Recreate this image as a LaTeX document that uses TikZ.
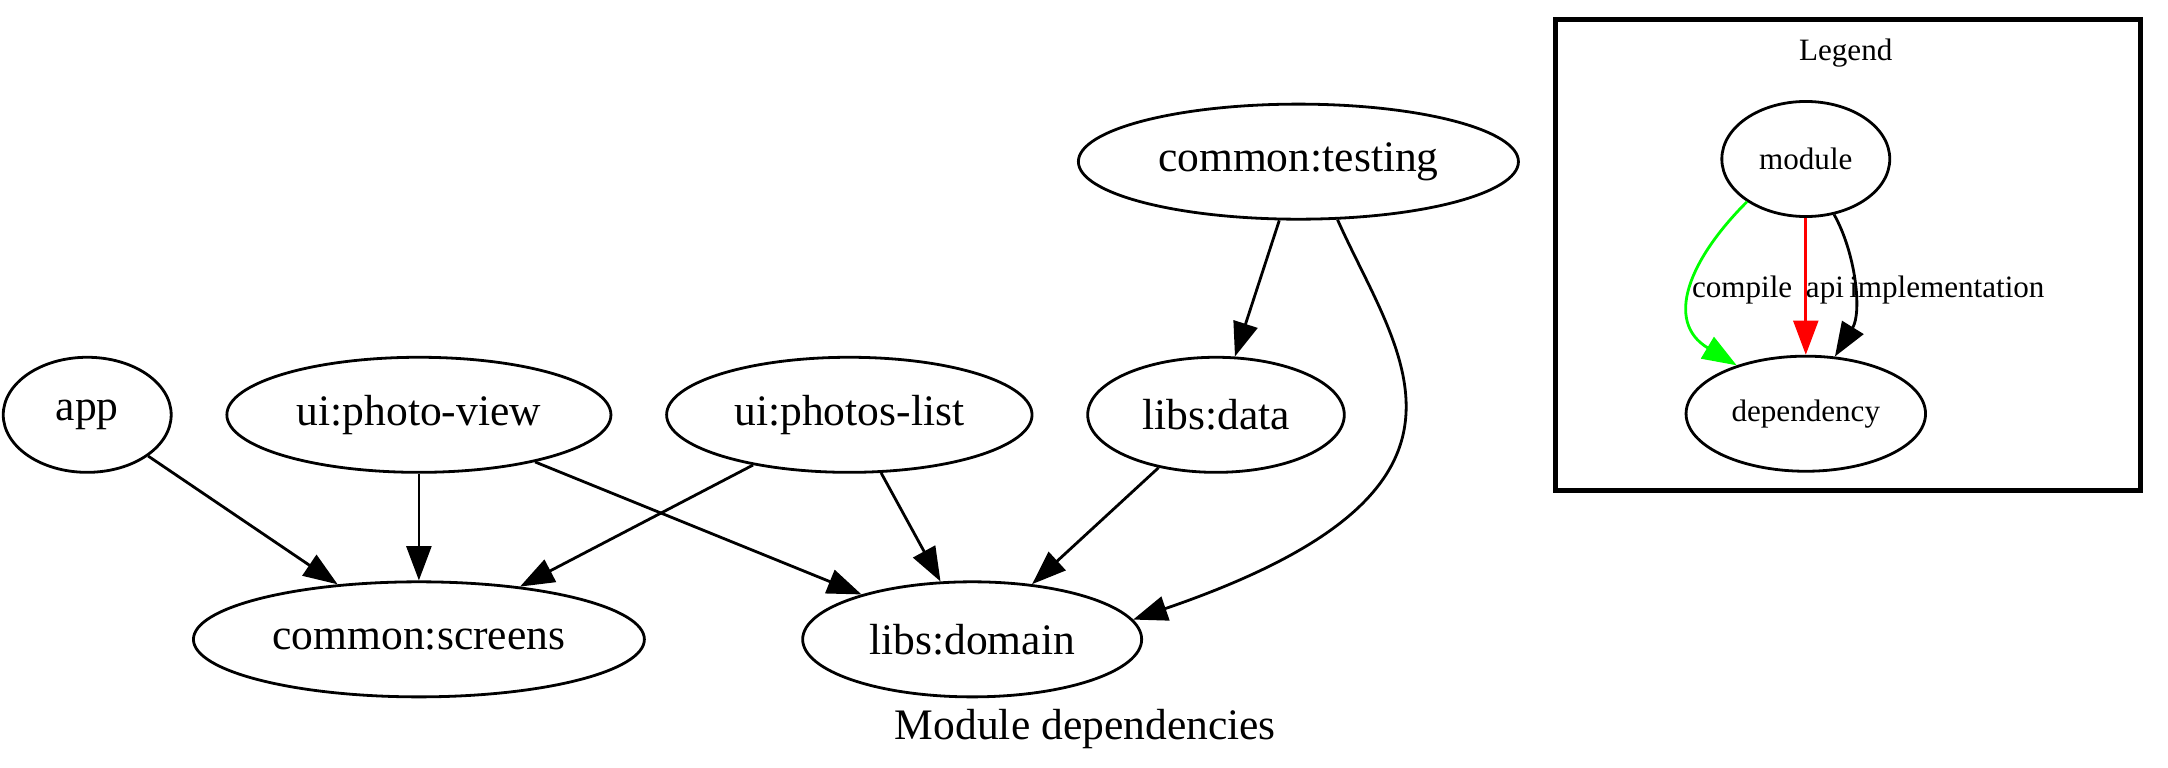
\documentclass[tikz,border=0pt]{standalone}
\usepackage{fontspec}
\setmainfont{Liberation Serif}
\usetikzlibrary{positioning, arrows.meta, shapes.geometric}

\begin{document}
\begin{tikzpicture}[x=0.9946pt, y=0.9946pt, node distance=17pt,
mod/.style={ellipse, draw=black, line width=0.9pt, minimum height=37pt, inner sep=1pt, font=\fontsize{14}{16}\selectfont},
leg/.style={ellipse, draw=black, line width=0.9pt, minimum height=37pt, inner sep=1pt, font=\fontsize{10}{12}\selectfont},
lbl/.style={inner sep=1pt, font=\fontsize{10}{12}\selectfont},
dep/.style={-{Triangle[length=11pt, width=8pt]}, line width=0.9pt} ]
\useasboundingbox (0,0) rectangle (700.9,-248.2);

% modules
\node (A) [mod, minimum width=54pt] at (28.2,-134.1) {app};
\node (V) [mod, minimum width=123.5pt, right = of A] {ui:photo-view};
\node (L) [mod, minimum width=117.5pt, right = of V] {ui:photos-list};
\node (D) [mod, minimum width=82.5pt, right = of L] {libs:data};
\node (T) [mod, minimum width=141.5pt, above = 43.5pt of D, xshift=26.5pt] {common:testing};
\node (S) [mod, minimum width=145pt, below = 34.3pt of V] {common:screens};
\node (Dm) [mod, minimum width=109pt, right = 50pt of S] {libs:domain};
\node (Cap) [font=\fontsize{14}{16}\selectfont] at (350.9,-235.6) {Module dependencies};

\path (A) edge[dep] (S);
\path (V) edge[dep] (S);
\path (V) edge[dep] (Dm);
\path (L) edge[dep] (S);
\path (L) edge[dep] (Dm);
\path (D) edge[dep] (Dm);
\path (T) edge[dep] (D);
\draw[dep] (T.-56) .. controls (452,-115) and (490,-158) .. (Dm.7);

% legend
\draw[line width=1.6pt] (502.9,-6.3) rectangle (692,-158.7);
\node (Lt) [lbl] at (596.7,-17) {Legend};
\node (Mo) [leg, minimum width=54pt] at (583.8,-51.4) {module};
\node (De) [leg, minimum width=77pt, below = 44pt of Mo] {dependency};

\draw[dep, green] (Mo.-144) .. controls (546,-84) and (538,-104) .. (De.145);
\path (Mo) edge[dep, red] (De);
\draw[dep] (Mo.-63) .. controls (600,-82) and (602,-101) .. (De.63);

\node (Lc) [lbl] at (563.2,-93.9) {compile};
\node (La) [lbl] at (590,-93.9) {api};
\node (Li) [lbl] at (629.4,-93.9) {implementation};

\end{tikzpicture}
\end{document}
